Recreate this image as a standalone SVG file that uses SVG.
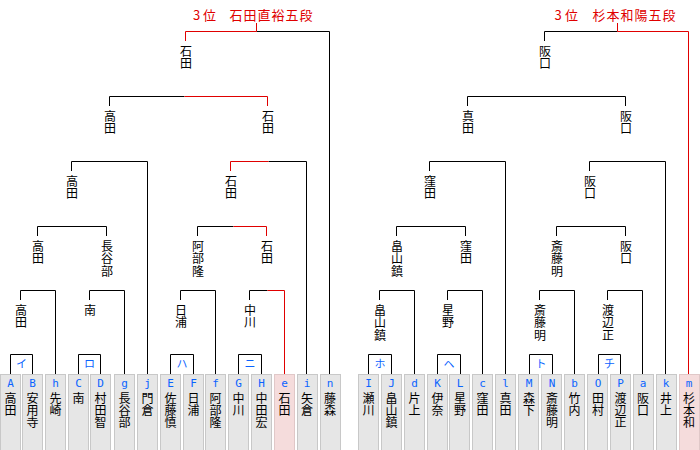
<svg xmlns="http://www.w3.org/2000/svg" width="700" height="450" viewBox="0 0 700 450">
<style>
.ln{fill:none;stroke:#000;stroke-width:1}
.rd{fill:none;stroke:#e00000;stroke-width:1}
.nm{font-family:"Noto Sans CJK JP","Noto Sans CJK SC",sans-serif;font-size:12px;fill:#000;writing-mode:vertical-rl;text-anchor:start}
.wn{letter-spacing:0.5px}
.tt{font-family:"Noto Sans CJK JP","Noto Sans CJK SC",sans-serif;font-size:13px;fill:#e00000;letter-spacing:1px}
.lt{font-family:"DejaVu Sans Mono","Liberation Mono",monospace;font-size:11px;fill:#0a64ff;text-anchor:middle}
.pl{font-family:"Noto Sans CJK JP",sans-serif;font-size:11px;fill:#0a64ff;text-anchor:middle}
.cell{fill:#e6e6e6;stroke:#c8c8c8;stroke-width:1}
.win{fill:#f5dcdc;stroke:#e0c8c8;stroke-width:1}
</style>
<g id="titles">
<text class="tt" y="20"><tspan x="193">3</tspan><tspan x="203">位</tspan><tspan x="229.5">石田直裕五段</tspan></text>
<text class="tt" y="20"><tspan x="554.5">3</tspan><tspan x="565">位</tspan><tspan x="592.5">杉本和陽五段</tspan></text>
</g>
<g id="connectors">
<path class="ln" d="M256.5 31.5H329.5V375 M109.5 106V96.5H184.5 M71.5 171V161.5H147.5V375 M268.5 161.5H306.5V375 M37.5 236V226.5H106.5V236 M197.5 236V226.5H233.5 M20.5 300V290.5H55.5V375 M89.5 300V290.5H124.5V375 M180.5 300V290.5H215.5V375 M249.5 300V290.5H267.5 M10.5 375V354.5H32.5V375 M78.5 375V354.5H100.5V375 M170.5 375V354.5H193.5V375 M238.5 375V354.5H261.5V375"/>
<path class="rd" d="M185.5 41V31.5H256.5V23 M184.5 96.5H267.5V106 M230.5 171V161.5H268.5 M233.5 226.5H266.5V236 M267.5 290.5H284.5V375"/>
<path class="ln" d="M544.5 41V31.5H617.5 M467.5 106V96.5H625.5V106 M429.5 171V161.5H505.5V375 M589.5 171V161.5H665.5V375 M396.5 236V226.5H465.5V236 M556.5 236V226.5H625.5V236 M379.5 300V290.5H414.5V375 M447.5 300V290.5H482.5V375 M539.5 300V290.5H574.5V375 M607.5 300V290.5H642.5V375 M368.5 375V354.5H391.5V375 M437.5 375V354.5H460.5V375 M529.5 375V354.5H552.5V375 M598.5 375V354.5H620.5V375"/>
<path class="rd" d="M617.5 23V31.5H688.5V375"/>
</g>
<g id="pair-labels">
<text class="pl" x="21.5" y="368">イ</text>
<text class="pl" x="89.5" y="368">ロ</text>
<text class="pl" x="182" y="368">ハ</text>
<text class="pl" x="250" y="368">ニ</text>
<text class="pl" x="380" y="368">ホ</text>
<text class="pl" x="449" y="368">ヘ</text>
<text class="pl" x="541" y="368">ト</text>
<text class="pl" x="609.5" y="368">チ</text>
</g>
<g id="winners">
<g id="w-l1"><text class="nm wn" x="186" y="45">石田</text></g>
<g id="w-l2a"><text class="nm wn" x="110" y="110">高田</text></g>
<g id="w-l2b"><text class="nm wn" x="268" y="110">石田</text></g>
<g id="w-l3a"><text class="nm wn" x="72" y="175">高田</text></g>
<g id="w-l3b"><text class="nm wn" x="231" y="175">石田</text></g>
<g id="w-l4a"><text class="nm wn" x="38" y="240">高田</text></g>
<g id="w-l4b"><text class="nm wn" x="107" y="240">長谷部</text></g>
<g id="w-l4c"><text class="nm wn" x="198" y="240">阿部隆</text></g>
<g id="w-l4d"><text class="nm wn" x="267" y="240">石田</text></g>
<g id="w-l5a"><text class="nm wn" x="21" y="304">高田</text></g>
<g id="w-l5b"><text class="nm wn" x="90" y="304">南</text></g>
<g id="w-l5c"><text class="nm wn" x="181" y="304">日浦</text></g>
<g id="w-l5d"><text class="nm wn" x="250" y="304">中川</text></g>
<g id="w-r1"><text class="nm wn" x="545" y="45">阪口</text></g>
<g id="w-r2a"><text class="nm wn" x="468" y="110">真田</text></g>
<g id="w-r2b"><text class="nm wn" x="626" y="110">阪口</text></g>
<g id="w-r3a"><text class="nm wn" x="430" y="175">窪田</text></g>
<g id="w-r3b"><text class="nm wn" x="590" y="175">阪口</text></g>
<g id="w-r4a"><text class="nm wn" x="397" y="240">畠山鎮</text></g>
<g id="w-r4b"><text class="nm wn" x="466" y="240">窪田</text></g>
<g id="w-r4c"><text class="nm wn" x="557" y="240">斎藤明</text></g>
<g id="w-r4d"><text class="nm wn" x="626" y="240">阪口</text></g>
<g id="w-r5a"><text class="nm wn" x="380" y="304">畠山鎮</text></g>
<g id="w-r5b"><text class="nm wn" x="448" y="304">星野</text></g>
<g id="w-r5c"><text class="nm wn" x="540" y="304">斎藤明</text></g>
<g id="w-r5d"><text class="nm wn" x="608" y="304">渡辺正</text></g>
</g>
<g id="players">
<g id="p-A"><rect class="cell" x="0.5" y="374.5" width="20" height="80"/><text class="lt" x="10.5" y="387">A</text><text class="nm" x="10.5" y="392">高田</text></g>
<g id="p-B"><rect class="cell" x="22.5" y="374.5" width="20" height="80"/><text class="lt" x="32.5" y="387">B</text><text class="nm" x="32.5" y="392">安用寺</text></g>
<g id="p-h"><rect class="cell" x="45.5" y="374.5" width="20" height="80"/><text class="lt" x="55.5" y="387">h</text><text class="nm" x="55.5" y="392">先崎</text></g>
<g id="p-C"><rect class="cell" x="68.5" y="374.5" width="20" height="80"/><text class="lt" x="78.5" y="387">C</text><text class="nm" x="78.5" y="392">南</text></g>
<g id="p-D"><rect class="cell" x="90.5" y="374.5" width="20" height="80"/><text class="lt" x="100.5" y="387">D</text><text class="nm" x="100.5" y="392">村田智</text></g>
<g id="p-g"><rect class="cell" x="114.5" y="374.5" width="20" height="80"/><text class="lt" x="124.5" y="387">g</text><text class="nm" x="124.5" y="392">長谷部</text></g>
<g id="p-j"><rect class="cell" x="137.5" y="374.5" width="20" height="80"/><text class="lt" x="147.5" y="387">j</text><text class="nm" x="147.5" y="392">門倉</text></g>
<g id="p-E"><rect class="cell" x="160.5" y="374.5" width="20" height="80"/><text class="lt" x="170.5" y="387">E</text><text class="nm" x="170.5" y="392">佐藤慎</text></g>
<g id="p-F"><rect class="cell" x="183.5" y="374.5" width="20" height="80"/><text class="lt" x="193.5" y="387">F</text><text class="nm" x="193.5" y="392">日浦</text></g>
<g id="p-f"><rect class="cell" x="205.5" y="374.5" width="20" height="80"/><text class="lt" x="215.5" y="387">f</text><text class="nm" x="215.5" y="392">阿部隆</text></g>
<g id="p-G"><rect class="cell" x="228.5" y="374.5" width="20" height="80"/><text class="lt" x="238.5" y="387">G</text><text class="nm" x="238.5" y="392">中川</text></g>
<g id="p-H"><rect class="cell" x="251.5" y="374.5" width="20" height="80"/><text class="lt" x="261.5" y="387">H</text><text class="nm" x="261.5" y="392">中田宏</text></g>
<g id="p-e"><rect class="win" x="274.5" y="374.5" width="20" height="80"/><text class="lt" x="284.5" y="387">e</text><text class="nm" x="284.5" y="392">石田</text></g>
<g id="p-i"><rect class="cell" x="297.5" y="374.5" width="20" height="80"/><text class="lt" x="307" y="387">i</text><text class="nm" x="307" y="392">矢倉</text></g>
<g id="p-n"><rect class="cell" x="320.5" y="374.5" width="20" height="80"/><text class="lt" x="330" y="387">n</text><text class="nm" x="330" y="392">藤森</text></g>
<g id="p-I"><rect class="cell" x="358.5" y="374.5" width="20" height="80"/><text class="lt" x="368.5" y="387">I</text><text class="nm" x="368.5" y="392">瀬川</text></g>
<g id="p-J"><rect class="cell" x="381.5" y="374.5" width="20" height="80"/><text class="lt" x="391.5" y="387">J</text><text class="nm" x="391.5" y="392">畠山鎮</text></g>
<g id="p-d"><rect class="cell" x="404.5" y="374.5" width="20" height="80"/><text class="lt" x="414.5" y="387">d</text><text class="nm" x="414.5" y="392">片上</text></g>
<g id="p-K"><rect class="cell" x="427.5" y="374.5" width="20" height="80"/><text class="lt" x="437.5" y="387">K</text><text class="nm" x="437.5" y="392">伊奈</text></g>
<g id="p-L"><rect class="cell" x="449.5" y="374.5" width="20" height="80"/><text class="lt" x="460" y="387">L</text><text class="nm" x="460" y="392">星野</text></g>
<g id="p-c"><rect class="cell" x="472.5" y="374.5" width="20" height="80"/><text class="lt" x="482.5" y="387">c</text><text class="nm" x="482.5" y="392">窪田</text></g>
<g id="p-l"><rect class="cell" x="495.5" y="374.5" width="20" height="80"/><text class="lt" x="505.5" y="387">l</text><text class="nm" x="505.5" y="392">真田</text></g>
<g id="p-M"><rect class="cell" x="518.5" y="374.5" width="20" height="80"/><text class="lt" x="529" y="387">M</text><text class="nm" x="529" y="392">森下</text></g>
<g id="p-N"><rect class="cell" x="541.5" y="374.5" width="20" height="80"/><text class="lt" x="552" y="387">N</text><text class="nm" x="552" y="392">斎藤明</text></g>
<g id="p-b"><rect class="cell" x="564.5" y="374.5" width="20" height="80"/><text class="lt" x="574.5" y="387">b</text><text class="nm" x="574.5" y="392">竹内</text></g>
<g id="p-O"><rect class="cell" x="587.5" y="374.5" width="20" height="80"/><text class="lt" x="598" y="387">O</text><text class="nm" x="598" y="392">田村</text></g>
<g id="p-P"><rect class="cell" x="610.5" y="374.5" width="20" height="80"/><text class="lt" x="620.5" y="387">P</text><text class="nm" x="620.5" y="392">渡辺正</text></g>
<g id="p-a"><rect class="cell" x="633.5" y="374.5" width="20" height="80"/><text class="lt" x="643" y="387">a</text><text class="nm" x="643" y="392">阪口</text></g>
<g id="p-k"><rect class="cell" x="656.5" y="374.5" width="20" height="80"/><text class="lt" x="666" y="387">k</text><text class="nm" x="666" y="392">井上</text></g>
<g id="p-m"><rect class="win" x="679.5" y="374.5" width="20" height="80"/><text class="lt" x="689" y="387">m</text><text class="nm" x="689" y="392">杉本和</text></g>
</g>
</svg>
